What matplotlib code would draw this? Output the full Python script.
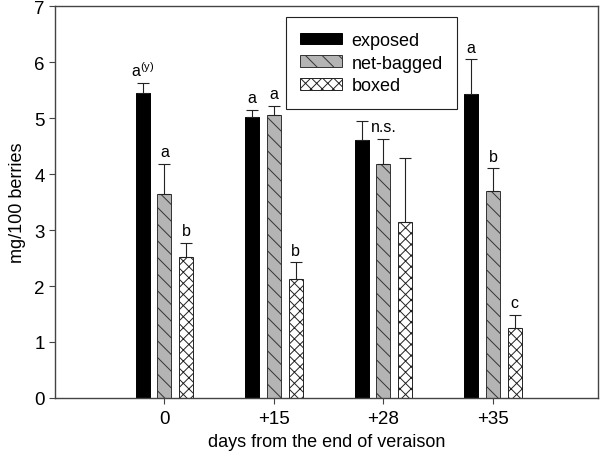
import matplotlib
matplotlib.use("Agg")
import matplotlib.pyplot as plt
import numpy as np

plt.rcParams['font.family'] = ['Liberation Sans', 'DejaVu Sans']
plt.rcParams['hatch.linewidth'] = 0.7
plt.rcParams['mathtext.default'] = 'regular'

categories = ["0", "+15", "+28", "+35"]
series_names = ["exposed", "net-bagged", "boxed"]
exposed = [5.44, 5.01, 4.60, 5.43]
exposed_err = [0.18, 0.14, 0.35, 0.62]
netbagged = [3.64, 5.06, 4.17, 3.69]
netbagged_err = [0.54, 0.16, 0.46, 0.41]
boxed = [2.52, 2.13, 3.14, 1.245]
boxed_err = [0.25, 0.29, 1.14, 0.245]
labels_exposed = ["a$^{(y)}$", "a", "", "a"]
labels_netbagged = ["a", "a", "n.s.", "b"]
labels_boxed = ["b", "b", "", "c"]

fig = plt.figure(figsize=(6, 4.6), dpi=100)
ax = fig.add_axes([55/600, 61/460, 543/600, 392/460])

x = np.arange(len(categories))
w = 0.128
off = 0.2
spine_c = '#444444'

vals = [exposed, netbagged, boxed]
errs = [exposed_err, netbagged_err, boxed_err]
labs = [labels_exposed, labels_netbagged, labels_boxed]
styles = [dict(color='black', edgecolor='black', hatch=None),
          dict(color='#b4b4b4', edgecolor='#333333', hatch='\\\\'),
          dict(color='white', edgecolor='#222222', hatch='xxx')]

for i, (v, e, l, st) in enumerate(zip(vals, errs, labs, styles)):
    pos = x + (i - 1) * off
    ax.bar(pos, v, width=w, color=st['color'], edgecolor=st['edgecolor'],
           hatch=st['hatch'], linewidth=0.7, label=series_names[i], zorder=2)
    ax.errorbar(pos, v, yerr=[np.zeros(len(v)), e], fmt='none', ecolor='#222222',
                elinewidth=0.8, capsize=4, capthick=0.8, zorder=3)
    for p, vv, ee, ll in zip(pos, v, e, l):
        if ll:
            ax.text(p, vv + ee + 0.08, ll, ha='center', va='bottom', fontsize=11.5)

ax.set_xlim(-1.0, 3.96)
ax.set_ylim(0, 7)
ax.set_xticks(x)
ax.set_xticklabels(categories)
ax.set_yticks(range(0, 8))
ax.tick_params(axis='both', labelsize=13.5, direction='out', length=4, width=0.8, color=spine_c)
ax.tick_params(axis='x', pad=5)
for s in ax.spines.values():
    s.set_color(spine_c)
    s.set_linewidth(1.0)
ax.set_xlabel("days from the end of veraison", fontsize=13, labelpad=4)
ax.set_ylabel("mg/100 berries", fontsize=13, labelpad=6)

leg = ax.legend(loc='upper left', bbox_to_anchor=(0.425, 0.971), fontsize=13,
                fancybox=False, framealpha=1, edgecolor='#222222',
                handlelength=2.3, handleheight=0.6, labelspacing=0.32,
                borderpad=0.8, handletextpad=0.55, borderaxespad=0)
leg.get_frame().set_linewidth(0.8)

fig.savefig("out.png", dpi=100)
